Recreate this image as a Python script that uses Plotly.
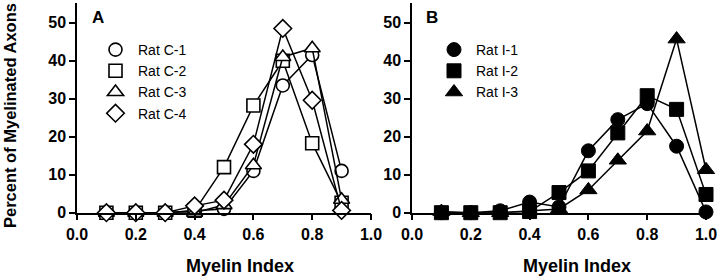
import plotly.graph_objects as go

x_vals = [0.1, 0.2, 0.3, 0.4, 0.5, 0.6, 0.7, 0.8, 0.9]
x_vals_b = [0.1, 0.2, 0.3, 0.4, 0.5, 0.6, 0.7, 0.8, 0.9, 1.0]

rat_c1 = [0, 0, 0, 0.5, 1.0, 11.0, 33.5, 41.5, 11.0]
rat_c2 = [0, 0, 0, 0.5, 12.0, 28.2, 40.0, 18.3, 2.6]
rat_c3 = [0, 0, 0, 0, 2.0, 12.5, 41.0, 43.3, 3.4]
rat_c4 = [0, 0, 0, 1.8, 3.3, 18.0, 48.5, 29.6, 0.6]

rat_i1 = [0, 0, 0.5, 2.8, 1.5, 16.3, 24.5, 28.7, 17.5, 0.2]
rat_i2 = [0, 0, 0, 0.3, 5.3, 11.0, 21.0, 30.8, 27.2, 4.8]
rat_i3 = [0.3, 0, 0, 0.5, 1.0, 6.0, 13.8, 21.5, 45.7, 11.3]

names_a = ["Rat C-1", "Rat C-2", "Rat C-3", "Rat C-4"]
names_b = ["Rat I-1", "Rat I-2", "Rat I-3"]
x_ticks = [0.0, 0.2, 0.4, 0.6, 0.8, 1.0]
y_ticks = [0, 10, 20, 30, 40, 50]

symbols_a = ["circle", "square", "triangle-up", "diamond"]
sizes_a = [13, 13, 14, 13.5]
symbols_b = ["circle", "square", "triangle-up"]
sizes_b = [14, 14, 15]

fig = go.Figure()

for ys, nm, sym, sz in zip([rat_c1, rat_c2, rat_c3, rat_c4], names_a, symbols_a, sizes_a):
    fig.add_trace(go.Scatter(
        x=x_vals, y=ys, mode="lines+markers", showlegend=False,
        line=dict(color="black", width=1.5),
        marker=dict(symbol=sym, size=sz, color="white", line=dict(color="black", width=1.6)),
        cliponaxis=False, xaxis="x", yaxis="y"))
for nm, sym, sz in zip(names_a, symbols_a, sizes_a):
    fig.add_trace(go.Scatter(
        x=[None], y=[None], mode="markers", name=nm, legend="legend",
        marker=dict(symbol=sym, size=sz, color="white", line=dict(color="black", width=1.6)),
        xaxis="x", yaxis="y"))

for ys, nm, sym, sz in zip([rat_i1, rat_i2, rat_i3], names_b, symbols_b, sizes_b):
    fig.add_trace(go.Scatter(
        x=x_vals_b, y=ys, mode="lines+markers", showlegend=False,
        line=dict(color="black", width=1.5),
        marker=dict(symbol=sym, size=sz, color="black", line=dict(color="black", width=1)),
        cliponaxis=False, xaxis="x2", yaxis="y2"))
for nm, sym, sz in zip(names_b, symbols_b, sizes_b):
    fig.add_trace(go.Scatter(
        x=[None], y=[None], mode="markers", name=nm, legend="legend2",
        marker=dict(symbol=sym, size=sz, color="black", line=dict(color="black", width=1)),
        xaxis="x2", yaxis="y2"))

FONT = "Liberation Sans, Arial"
tick_font = dict(family=FONT, size=16, color="black", weight="bold")
ydom = [1 - 212.7 / 280, 1 - 3 / 280]

axis_common = dict(
    showline=True, linecolor="black", linewidth=1.5, showgrid=False, zeroline=False,
    ticks="outside", ticklen=6, tickwidth=1.5, tickcolor="black", tickfont=tick_font,
    automargin=False,
)


def ann(text, px, py, size, angle=0, bold=True):
    return dict(text=text, x=px / 720, y=1 - py / 280, xref="paper", yref="paper",
                xanchor="center", yanchor="middle", showarrow=False, textangle=angle,
                font=dict(family=FONT, size=size, color="black", weight="bold" if bold else "normal"))


fig.update_layout(
    width=720, height=280,
    margin=dict(l=0, r=0, t=0, b=0, autoexpand=False),
    paper_bgcolor="white", plot_bgcolor="white",
    xaxis=dict(domain=[77 / 720, 371 / 720], range=[0, 1.0], tickvals=x_ticks,
               ticktext=[f"{v:.1f}" for v in x_ticks], anchor="y", **axis_common),
    yaxis=dict(domain=ydom, range=[0, 55.2], tickvals=y_ticks, anchor="x", **axis_common),
    xaxis2=dict(domain=[412 / 720, 706 / 720], range=[0, 1.0], tickvals=x_ticks,
                ticktext=[f"{v:.1f}" for v in x_ticks], anchor="y2", **axis_common),
    yaxis2=dict(domain=ydom, range=[0, 55.2], tickvals=y_ticks, anchor="x2", **axis_common),
    legend=dict(x=93 / 720, y=1 - 34 / 280, xanchor="left", yanchor="top",
                bgcolor="rgba(0,0,0,0)", font=dict(family=FONT, size=14, color="black"),
                itemwidth=35, tracegroupgap=0),
    legend2=dict(x=432 / 720, y=1 - 34 / 280, xanchor="left", yanchor="top",
                 bgcolor="rgba(0,0,0,0)", font=dict(family=FONT, size=14, color="black"),
                 itemwidth=34, tracegroupgap=0),
    annotations=[
        ann("A", 98, 17, 17),
        ann("B", 432, 17, 17),
        ann("Myelin Index", 240, 266, 18),
        ann("Myelin Index", 577, 266, 18),
        ann("Percent of Myelinated Axons", 10, 116, 16.5, angle=-90),
    ],
)

fig.write_html("out.html", post_script="document.body.style.margin='0';",
               config={"displayModeBar": False})
